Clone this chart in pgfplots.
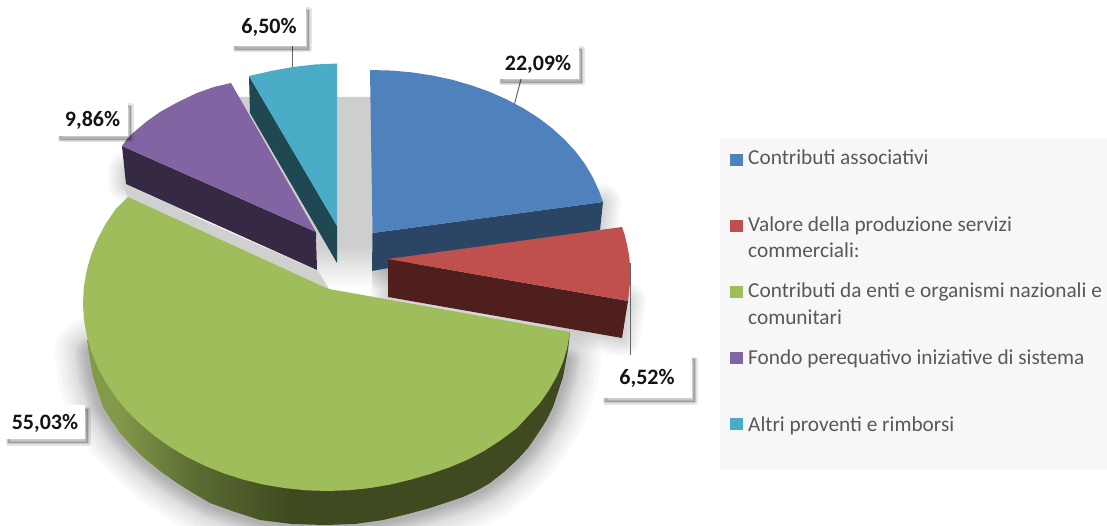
\documentclass[border=0pt]{standalone}
\usepackage{pgfplots}
\usepackage{pgfplotstable}
\usepackage{fontspec}
\setmainfont{Carlito}
\pgfplotsset{compat=1.18}
\definecolor{cBlue}{HTML}{4F81BD}
\definecolor{cBlueS}{HTML}{2A4664}
\definecolor{cRed}{HTML}{C0504D}
\definecolor{cRedS}{HTML}{4F1F1E}
\definecolor{cGreen}{HTML}{9FBD5B}
\definecolor{cPurple}{HTML}{8364A3}
\definecolor{cPurpleS}{HTML}{352943}
\definecolor{cCyan}{HTML}{4BACC8}
\definecolor{cCyanS}{HTML}{1F4853}
\definecolor{cBack}{HTML}{CECECE}
\definecolor{cTxt}{HTML}{595959}
\definecolor{sA}{HTML}{839A4A}
\definecolor{sB}{HTML}{5B6D33}
\definecolor{sC}{HTML}{3F4A20}
\pgfdeclarehorizontalshading{greenside}{100bp}{color(0bp)=(sA); color(25bp)=(sA); color(28bp)=(sA); color(36bp)=(sB); color(46bp)=(sC); color(100bp)=(sC)}
\pgfdeclareverticalshading{backfade}{100bp}{color(0bp)=(white); color(25bp)=(white); color(36bp)=(cBack); color(100bp)=(cBack)}
\pgfplotstableread{
x y
128 197
115.7 209
105.9 223.5
97.7 238.7
91.3 254.3
86.7 270.4
83.9 286.6
83 303
83.9 319.4
86.7 335.6
91.3 351.7
97.7 367.3
105.9 382.5
115.7 397
127.1 411
140.1 423.8
154.5 435.9
170.2 447
187 457
205 465.8
223.9 473.4
243.5 479.7
263.8 484.6
284.6 488.1
305.7 490.3
327 491
348.3 490.3
369.4 488.1
390.2 484.6
410.5 479.7
430.1 474
449 467.5
467 460
484 451
501 440
517 428
529 415
540 403
549 390
557 376
563 362
567 349
570 332
329 289
320 285
128 197
}\tGreenTop
\pgfplotstableread{
x y
87 340
90 360
93 377
98 392
103 407
111 420
120 433
131 445
143 457
160 471
177 483
193 493
210 503
235 512
260 520
292 524
325 525
355 524
383 520
408 514
430 508
463 497
478 490
490 483
504 472
517 460
528 448
537 435
546 421
553 407
558 392
563 377
568 350
570 332
430 380
200 350
87 340
}\tGreenSide
\pgfplotstableread{
x y
90 352
93 377
98 392
103 407
111 420
120 433
131 445
143 457
160 471
177 483
193 493
210 503
235 512
260 520
292 524
325 525
355 524
383 520
408 514
430 508
463 497
478 490
490 483
504 472
517 460
528 448
537 435
546 421
553 407
558 392
563 377
566 360
}\tGreenEdge
\pgfplotstableread{
x y
370 70
392.5 70.6
412.8 72.5
432.8 75.6
452.4 79.8
471.3 85.3
489.5 91.8
506.8 99.5
523 108.1
538.2 117.7
552 128.2
564.5 139.5
575.5 151.5
585 164.1
592.8 177.3
599 190.8
603 202
372.5 233
370 70
}\tBlueTop
\pgfplotstableread{
x y
372.5 233
603 202
600 230
372 271
372.5 233
}\tBlueSide
\pgfplotstableread{
x y
388 259
622 227
625 236
627 245
629 255
630 265
630.5 274
630 283
629 292
628 301
388 259
}\tRedTop
\pgfplotstableread{
x y
388 259
628 301
622 338
388 297
388 259
}\tRedSide
\pgfplotstableread{
x y
122 146
127 139
133 133
146 122
160 112
178 102
197 93
214 87
231 83
316 232
122 146
}\tPurpleTop
\pgfplotstableread{
x y
122 146
316 232
317 270
126 184
122 146
}\tPurpleSide
\pgfplotstableread{
x y
126 170
126 184
180 208
}\tPurpleEdge
\pgfplotstableread{
x y
249 76
271 71
293 67
315 64.5
337 63.5
337 226
249 76
}\tCyanTop
\pgfplotstableread{
x y
249 76
337 226
337 263
250 113
249 76
}\tCyanSide
\pgfplotstableread{
x y
235 97
372 97
372 288
317 288
317 240
235 97
}\tBack
\pgfplotstableread{
x y
123 185
318 271
329 289
128 197
123 185
}\tBand
\pgfplotstableread{
x y
0 0
1107 0
1107 526
0 526
0 0
}\tPage
\pgfplotstableread{
x y
720 139
1107 139
1107 469
720 469
720 139
}\tLegendBox
\newcommand\sh[2]{\addplot[draw=black,draw opacity=.024,line join=round,line cap=round,line width=#1pt] table {#2};}
\newcommand\softshadow[1]{\sh{70}{#1}\sh{62}{#1}\sh{54}{#1}\sh{47}{#1}\sh{40}{#1}\sh{33}{#1}\sh{29}{#1}\sh{26}{#1}\sh{23}{#1}\sh{20}{#1}\sh{17}{#1}\sh{14}{#1}\sh{11}{#1}\sh{8}{#1}}
\newcommand\softshadowsmall[1]{\sh{36}{#1}\sh{31}{#1}\sh{26}{#1}\sh{21}{#1}\sh{16}{#1}\sh{11}{#1}\sh{6}{#1}}
\newcommand\labbox[4]{%
  \addplot[shift={(3pt,-4pt)},fill=black,fill opacity=.22,draw=black,draw opacity=.10,line width=5pt,line join=round] coordinates {(#1,#2) (#3,#2) (#3,#4) (#1,#4) (#1,#2)};
  \addplot[shift={(3pt,-4pt)},draw=black,draw opacity=.10,line width=2pt,line join=round] coordinates {(#1,#2) (#3,#2) (#3,#4) (#1,#4) (#1,#2)};
  \addplot[fill=white,draw=none] coordinates {(#1,#2) (#3,#2) (#3,#4) (#1,#4) (#1,#2)};
}
\newcommand\lab[3]{\node[font=\fontsize{22}{24}\selectfont\bfseries,text=black!92,anchor=center,inner sep=0pt] at (axis cs:#1,#2) {#3};}
\newcommand\legtxt[3]{\node[font=\fontsize{21.3}{24}\selectfont,text=cTxt,anchor=base west,inner sep=0pt] at (axis cs:#1,#2) {#3};}
\newcommand\legpatch[2]{\addplot[fill=#1,draw=none] coordinates {(730,#2-6) (743,#2-6) (743,#2+6) (730,#2+6)};}
\begin{document}
\begin{tikzpicture}
\begin{axis}[name=a,width=1107pt,height=526pt,scale only axis,hide axis,
  xmin=0,xmax=1107,ymin=0,ymax=526,y dir=reverse]
\addplot[fill=white,draw=none] table {\tPage};
\addplot[fill=black!3,draw=none] table {\tLegendBox};
% soft shadows under the slices
\softshadow{\tGreenEdge}
\softshadowsmall{\tPurpleEdge}
\softshadowsmall{\tBlueSide}
\softshadowsmall{\tRedSide}
% grey backdrop
\addplot[shade,shading=backfade,draw=none] table {\tBack};
\addplot[fill=cBack!95!white,draw=none] table {\tBand};
% leader lines
\addplot[draw=black!60,line width=1pt] coordinates {(292,46) (292,67)};
\addplot[draw=black!60,line width=1pt] coordinates {(521,79) (514,106)};
\addplot[draw=black!60,line width=1pt] coordinates {(630,263) (630,355)};
% cyan
\addplot[fill=cCyanS,draw=none] table {\tCyanSide};
\addplot[fill=cCyan,draw=none] table {\tCyanTop};
% purple
\addplot[fill=cPurpleS,draw=none] table {\tPurpleSide};
\addplot[fill=cPurple,draw=none] table {\tPurpleTop};
% blue
\addplot[fill=cBlueS,draw=none] table {\tBlueSide};
\addplot[fill=cBlue,draw=none] table {\tBlueTop};
% green
\addplot[shade,shading=greenside,draw=none] table {\tGreenSide};
\addplot[fill=cGreen,draw=none] table {\tGreenTop};
% red
\addplot[fill=cRedS,draw=none] table {\tRedSide};
\addplot[fill=cRed,draw=none] table {\tRedTop};
% data labels
\labbox{232}{6}{306}{46}
\labbox{57}{102}{128}{136}
\labbox{498}{45}{579}{79}
\labbox{602}{355}{692}{398}
\labbox{5}{405}{85}{439}
\lab{269}{27}{6,50\%}
\lab{92.5}{120}{9,86\%}
\lab{538}{64}{22,09\%}
\lab{647}{378}{6,52\%}
\lab{45}{423}{55,03\%}
% legend
\legpatch{cBlue}{160}
\legpatch{cRed}{226}
\legpatch{cGreen}{292}
\legpatch{cPurple}{358}
\legpatch{cCyan}{424}
\legtxt{748}{165}{Contributi associativi}
\legtxt{748}{232}{Valore della produzione servizi}
\legtxt{748}{258}{commerciali:}
\legtxt{748}{298}{Contributi da enti e organismi nazionali e}
\legtxt{748}{324}{comunitari}
\legtxt{748}{364}{Fondo perequativo iniziative di sistema}
\legtxt{748}{431}{Altri proventi e rimborsi}
\end{axis}
\pgfresetboundingbox
\path[use as bounding box] (a.south west) rectangle (a.north east);
\end{tikzpicture}
\end{document}
